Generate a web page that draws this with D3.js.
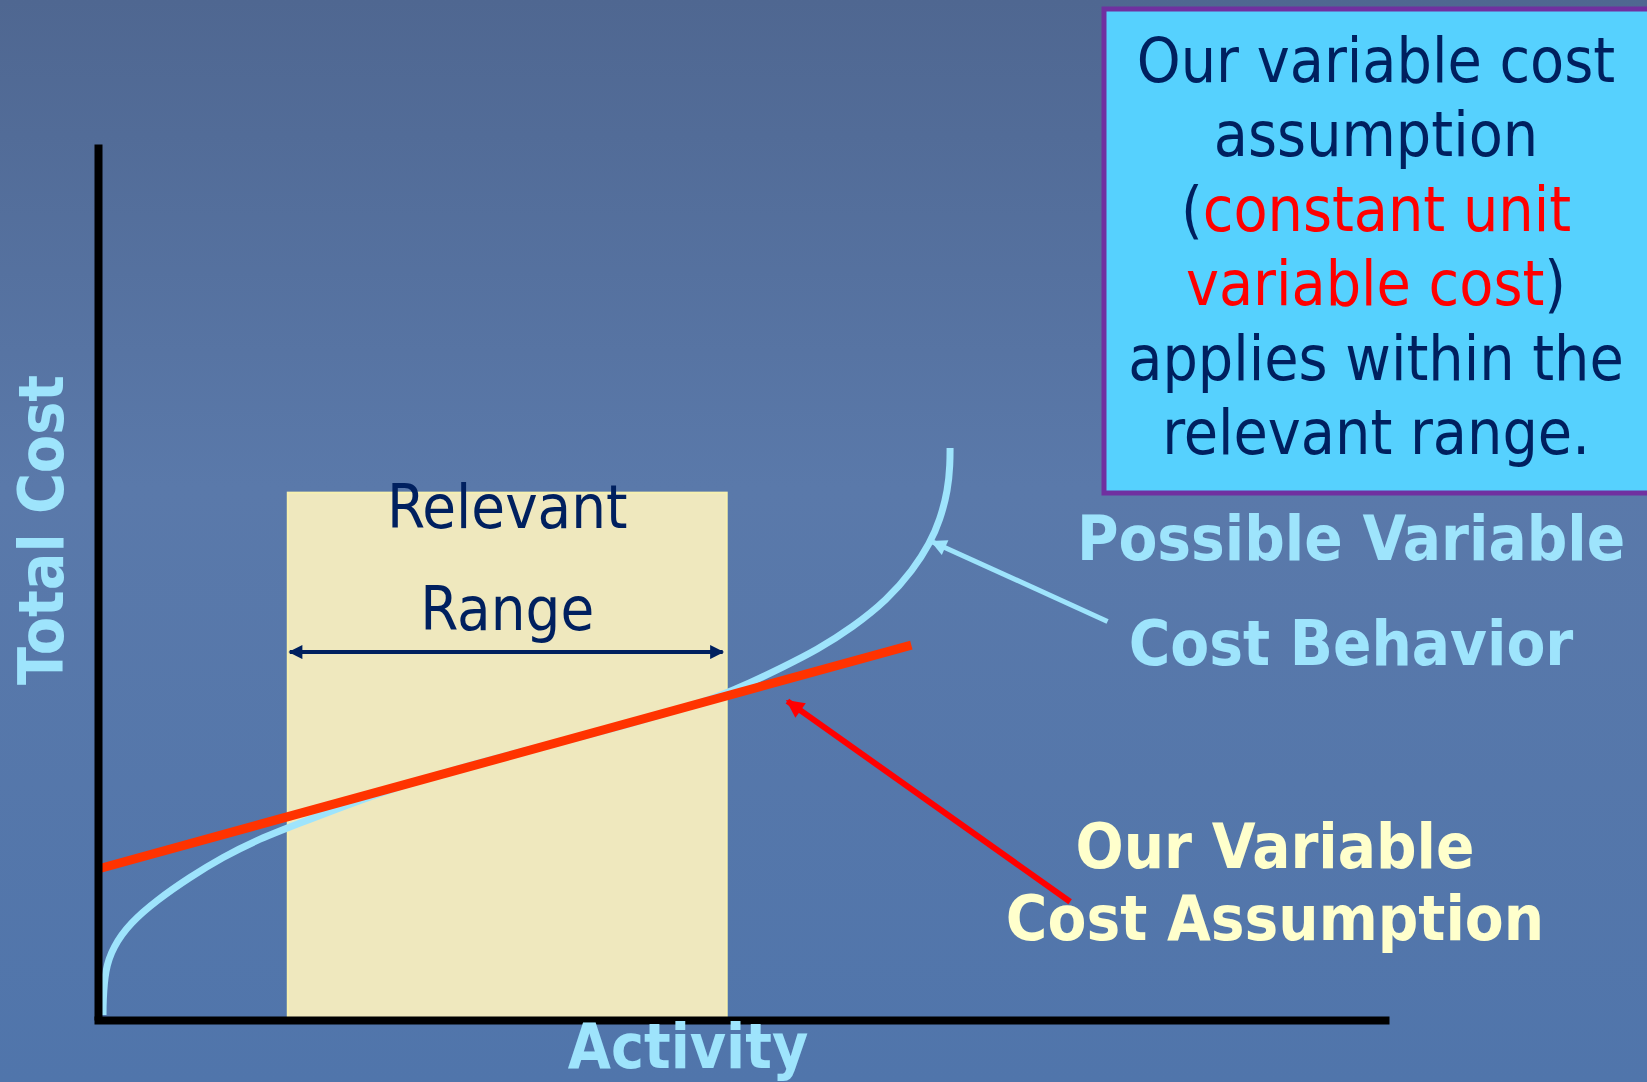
<!DOCTYPE html>
<html>
<head>
<meta charset="utf-8">
<script src="https://cdn.jsdelivr.net/npm/d3@7"></script>
<style>
  body { margin: 0; background: #54729f; }
  svg { display: block; }
  .axis path { stroke: black; stroke-width: 8; }
</style>
</head>
<body>
<svg id="chart" width="1647" height="1082"></svg>
<script>
// data, in activity / cost units (0-100 on both axes)
var costActivity = [0.39, 0.39, 0.54, 1.16, 2.48, 4.57, 7.13, 9.68, 12.32, 14.87, 21.84, 29.59, 34.78, 39.89, 45.08, 47.95, 50.5, 53.06, 55.69, 58.48, 61.12, 63.13, 64.45, 65.22, 65.84, 66.0, 66.0];
var costValues   = [0.57, 2.0, 5.71, 8.33, 11.07, 13.7, 16.32, 18.61, 20.55, 22.03, 26.03, 29.45, 31.39, 33.22, 35.5, 36.87, 38.47, 40.3, 42.24, 44.86, 47.95, 51.37, 54.45, 57.08, 60.5, 63.5, 65.3];

// assumed straight-line variable cost
var assumedActivity = [0, 63.0];
var assumedCost = [17.24, 42.8];

// relevant range
var relevantRange = [14.7, 48.7];
var relevantTop = 60.2;
var rangeArrowCost = 42.0;

// pointer arrows [tail, tip]
var curvePointer = [[78.2, 45.5], [64.6, 54.6]];
var linePointer = [[75.3, 13.5], [53.4, 36.4]];

var boxLines = [
  [{ t: 'Our variable cost', c: 'navy' }],
  [{ t: 'assumption', c: 'navy' }],
  [{ t: '(', c: 'navy' }, { t: 'constant unit', c: 'red' }],
  [{ t: 'variable cost', c: 'red' }, { t: ')', c: 'navy' }],
  [{ t: 'applies within the', c: 'navy' }],
  [{ t: 'relevant range.', c: 'navy' }]
];

var NAVY = '#00205f';
var svg = d3.select('#chart');
var font = '"DejaVu Sans Condensed", "DejaVu Sans", sans-serif';

// background
var defs = svg.append('defs');
var bg = defs.append('linearGradient')
  .attr('id', 'bg').attr('x1', 0).attr('y1', 0).attr('x2', 0).attr('y2', 1);
bg.append('stop').attr('offset', '0%').attr('stop-color', '#4f6791');
bg.append('stop').attr('offset', '45%').attr('stop-color', '#5a79aa');
bg.append('stop').attr('offset', '100%').attr('stop-color', '#5075ab');
svg.append('rect').attr('width', 1647).attr('height', 1082).attr('fill', 'url(#bg)');

function marker(id, color, w, h) {
  defs.append('marker')
    .attr('id', id)
    .attr('viewBox', '0 0 10 10')
    .attr('refX', 9).attr('refY', 5)
    .attr('markerWidth', w).attr('markerHeight', h)
    .attr('markerUnits', 'userSpaceOnUse')
    .attr('orient', 'auto-start-reverse')
    .append('path')
    .attr('d', 'M0,0 L10,5 L0,10 Z')
    .attr('fill', color);
}
marker('navyHead', NAVY, 16, 14);
marker('blueHead', '#9ee4fc', 20, 16);
marker('redHead', '#ff0000', 22, 18);

// scales
var x = d3.scaleLinear().domain([0, 100]).range([98, 1389]);
var y = d3.scaleLinear().domain([0, 100]).range([1020, 144]);

// relevant range box
svg.append('rect')
  .attr('x', x(relevantRange[0]))
  .attr('y', y(relevantTop))
  .attr('width', x(relevantRange[1]) - x(relevantRange[0]))
  .attr('height', y(0) - y(relevantTop))
  .attr('fill', '#efe8be')
  .attr('stroke', '#f6f0b0')
  .attr('stroke-width', 2);

svg.append('text')
  .attr('x', x((relevantRange[0] + relevantRange[1]) / 2))
  .attr('y', 528)
  .attr('text-anchor', 'middle')
  .style('font-family', font).style('font-size', '61px')
  .attr('fill', NAVY)
  .text('Relevant');
svg.append('text')
  .attr('x', x((relevantRange[0] + relevantRange[1]) / 2))
  .attr('y', 630)
  .attr('text-anchor', 'middle')
  .style('font-family', font).style('font-size', '61px')
  .attr('fill', NAVY)
  .text('Range');

svg.append('line')
  .attr('x1', x(relevantRange[0]) + 2).attr('x2', x(relevantRange[1]) - 4)
  .attr('y1', y(rangeArrowCost)).attr('y2', y(rangeArrowCost))
  .attr('stroke', NAVY).attr('stroke-width', 4)
  .attr('marker-start', 'url(#navyHead)')
  .attr('marker-end', 'url(#navyHead)');

// curve + straight line
var curveData = costActivity.map((a, i) => ({ a: a, c: costValues[i] }));
var curve = d3.line()
  .x(d => x(d.a))
  .y(d => y(d.c))
  .curve(d3.curveBasis);

svg.append('path')
  .datum(curveData)
  .attr('d', curve)
  .attr('fill', 'none')
  .attr('stroke', '#9ee4fc')
  .attr('stroke-width', 7);

svg.append('line')
  .attr('x1', x(assumedActivity[0])).attr('y1', y(assumedCost[0]))
  .attr('x2', x(assumedActivity[1])).attr('y2', y(assumedCost[1]))
  .attr('stroke', '#ff3300')
  .attr('stroke-width', 9);

// axes (no ticks)
svg.append('g')
  .attr('class', 'axis')
  .attr('transform', `translate(${x(0)},0)`)
  .call(d3.axisLeft(y).ticks(0).tickSizeOuter(0));
svg.append('g')
  .attr('class', 'axis')
  .attr('transform', `translate(0,${y(0)})`)
  .call(d3.axisBottom(x.copy().domain([-0.3, 100]).range([94, 1389])).ticks(0).tickSizeOuter(0));

// pointer arrows
svg.append('line')
  .attr('x1', x(curvePointer[0][0])).attr('y1', y(curvePointer[0][1]))
  .attr('x2', x(curvePointer[1][0])).attr('y2', y(curvePointer[1][1]))
  .attr('stroke', '#9ee4fc').attr('stroke-width', 5)
  .attr('marker-end', 'url(#blueHead)');
svg.append('line')
  .attr('x1', x(linePointer[0][0])).attr('y1', y(linePointer[0][1]))
  .attr('x2', x(linePointer[1][0])).attr('y2', y(linePointer[1][1]))
  .attr('stroke', '#ff0000').attr('stroke-width', 6)
  .attr('marker-end', 'url(#redHead)');

// axis titles
svg.append('text')
  .attr('transform', 'translate(63,530) rotate(-90)')
  .attr('text-anchor', 'middle')
  .style('font-family', font).style('font-size', '62px').style('font-weight', 'bold')
  .attr('fill', '#9ee4fc')
  .text('Total Cost');
svg.append('text')
  .attr('x', 688).attr('y', 1068)
  .attr('text-anchor', 'middle')
  .style('font-family', font).style('font-size', '62px').style('font-weight', 'bold')
  .attr('fill', '#9ee4fc')
  .text('Activity');

// labels
[['Possible Variable', 560], ['Cost Behavior', 665]].forEach(function (l) {
  svg.append('text')
    .attr('x', 1351).attr('y', l[1])
    .attr('text-anchor', 'middle')
    .style('font-family', font).style('font-size', '63px').style('font-weight', 'bold')
    .attr('fill', '#9ee4fc')
    .text(l[0]);
});
[['Our Variable', 868], ['Cost Assumption', 940]].forEach(function (l) {
  svg.append('text')
    .attr('x', 1275).attr('y', l[1])
    .attr('text-anchor', 'middle')
    .style('font-family', font).style('font-size', '63px').style('font-weight', 'bold')
    .attr('fill', '#ffffcc')
    .text(l[0]);
});

// note box
svg.append('rect')
  .attr('x', 1104).attr('y', 9)
  .attr('width', 560).attr('height', 484)
  .attr('fill', '#56d1fe')
  .attr('stroke', '#7030a0')
  .attr('stroke-width', 5);

boxLines.forEach(function (parts, i) {
  var t = svg.append('text')
    .attr('x', 1376).attr('y', 82 + i * 74.4)
    .attr('text-anchor', 'middle')
    .style('font-family', font).style('font-size', '62px');
  parts.forEach(function (p) {
    t.append('tspan')
      .attr('fill', p.c == 'red' ? '#ff0000' : NAVY)
      .text(p.t);
  });
});
</script>
</body>
</html>
